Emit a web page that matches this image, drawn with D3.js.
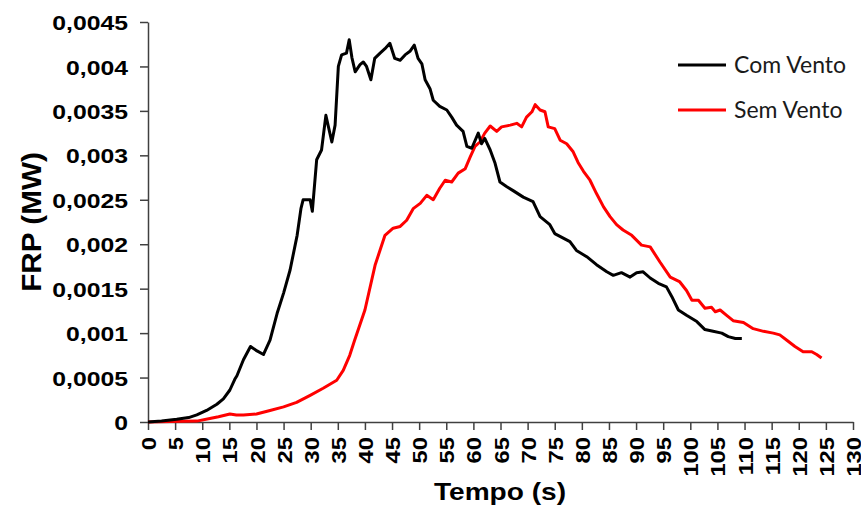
<!DOCTYPE html>
<html>
<head>
<meta charset="utf-8">
<script src="https://cdn.jsdelivr.net/npm/d3@7"></script>
<style>
  html, body { margin: 0; padding: 0; background: #fff; }
  svg { display: block; }
</style>
</head>
<body>
<div id="chart"></div>
<script>
// ---- data ----
const seriesNames = ["Com Vento", "Sem Vento"];
const seriesColors = ["#000000", "#ff0000"];

const tComVento = [0, 2.5, 5.3, 7.5, 9, 10.8, 12.7, 13.9, 15.1, 16, 16.4, 17.6, 18.9, 20.1, 21.3, 22.5, 23.8, 25, 26.2, 27.5, 28.2, 28.6, 29.9, 30.3, 31.1, 32, 32.8, 33.9, 34.5, 35.1, 35.7, 36.6, 37.1, 37.6, 38.2, 39.1, 39.7, 40.3, 41.1, 41.8, 42.8, 43.7, 44.6, 45.5, 46.5, 47.4, 48.3, 49.1, 49.8, 50.5, 51.1, 52, 52.6, 53.8, 55.1, 56, 56.9, 58.1, 58.8, 59.7, 60.9, 61.5, 62.1, 63.1, 64, 64.9, 66.1, 67.4, 69.2, 71, 72.3, 74.1, 75, 77.8, 79, 80.9, 82.7, 84.6, 85.8, 87.3, 88.9, 90.1, 91.3, 92.6, 94.1, 95.6, 96.6, 97.8, 99.3, 101.2, 102.7, 104.2, 105.8, 107, 108.3, 109.5];
const vComVento = [0, 0.00001, 0.00003, 0.00005, 0.00008, 0.00013, 0.0002, 0.00026, 0.00036, 0.00048, 0.00052, 0.0007, 0.00085, 0.0008, 0.00076, 0.00092, 0.00122, 0.00145, 0.00171, 0.0021, 0.0024, 0.0025, 0.0025, 0.00237, 0.00295, 0.00306, 0.00345, 0.00315, 0.00334, 0.004, 0.00413, 0.00415, 0.0043, 0.0041, 0.00394, 0.00402, 0.00405, 0.004, 0.00385, 0.00409, 0.00415, 0.0042, 0.00426, 0.00409, 0.00407, 0.00413, 0.00417, 0.00424, 0.00409, 0.00403, 0.00385, 0.00375, 0.00362, 0.00355, 0.00351, 0.00343, 0.00334, 0.00327, 0.0031, 0.00308, 0.00325, 0.00313, 0.00319, 0.00306, 0.00291, 0.0027, 0.00265, 0.0026, 0.00253, 0.00248, 0.00231, 0.00222, 0.00212, 0.00203, 0.00193, 0.00186, 0.00177, 0.00169, 0.00165, 0.00168, 0.00163, 0.00168, 0.00169, 0.00162, 0.00156, 0.00152, 0.00141, 0.00126, 0.0012, 0.00113, 0.00104, 0.00102, 0.001, 0.00096, 0.00094, 0.00094];

const tSemVento = [0, 4, 9, 11.4, 13, 15.1, 16.3, 17.6, 20, 22.5, 25, 27.4, 29.9, 32.3, 34.8, 36, 37.2, 38.1, 40, 41.9, 43.7, 45.2, 46.5, 47.7, 48.9, 50.2, 51.4, 52.6, 53.8, 54.8, 56, 57.2, 58.5, 59.4, 60.3, 61.2, 62.1, 63.1, 64.3, 65.2, 66.8, 68, 68.9, 69.8, 70.8, 71.4, 72.3, 73.2, 73.8, 75, 76, 77.2, 78.4, 79.3, 80.3, 81.5, 82.7, 84, 85.2, 86.4, 87.6, 89.2, 91, 92.6, 94.4, 96.3, 98, 99.3, 100.3, 101.5, 102.7, 103.9, 104.6, 105.5, 106.7, 107.9, 109.8, 111.6, 113.5, 115.3, 116.5, 117.8, 119.3, 120.8, 122.4, 123.3, 124.2];
const vSemVento = [0, 0.000005, 0.00001, 0.00004, 0.00006, 0.00009, 0.00008, 0.00008, 0.00009, 0.00013, 0.00017, 0.00022, 0.0003, 0.00038, 0.00047, 0.00058, 0.00075, 0.00092, 0.00126, 0.00177, 0.0021, 0.00218, 0.0022, 0.00227, 0.0024, 0.00246, 0.00255, 0.0025, 0.00263, 0.00272, 0.0027, 0.0028, 0.00285, 0.00298, 0.0031, 0.00315, 0.00325, 0.00333, 0.00327, 0.00332, 0.00334, 0.00336, 0.00332, 0.00343, 0.00349, 0.00357, 0.00351, 0.00349, 0.00332, 0.0033, 0.00317, 0.00313, 0.00304, 0.00292, 0.00282, 0.00272, 0.00257, 0.00242, 0.00231, 0.00222, 0.00216, 0.0021, 0.00199, 0.00197, 0.0018, 0.00163, 0.00158, 0.00148, 0.00137, 0.00137, 0.00128, 0.00129, 0.00124, 0.00126, 0.0012, 0.00114, 0.00112, 0.00105, 0.00102, 0.001, 0.00098, 0.00092, 0.00085, 0.00079, 0.00079, 0.00076, 0.00072];

const xTicks = d3.range(0, 131, 5);
const yTicks = [0, 0.0005, 0.001, 0.0015, 0.002, 0.0025, 0.003, 0.0035, 0.004, 0.0045];
const yTickLabels = ["0", "0,0005", "0,001", "0,0015", "0,002", "0,0025", "0,003", "0,0035", "0,004", "0,0045"];
const xTitle = "Tempo (s)";
const yTitle = "FRP (MW)";

// ---- layout ----
const W = 861, H = 506;
const svg = d3.select("#chart").append("svg").attr("width", W).attr("height", H);
const x = d3.scaleLinear().domain([0, 130]).range([148, 853]);
const y = d3.scaleLinear().domain([0, 0.0045]).range([422, 22]);
const FONT = "'Liberation Sans', Arial, sans-serif";
const AXC = "#404040";

function stretch(sel, k) {
  sel.each(function() {
    const w = this.getComputedTextLength();
    d3.select(this).attr("textLength", w * k).attr("lengthAdjust", "spacingAndGlyphs");
  });
}

// y axis
const yAxis = svg.append("g").attr("transform", `translate(${x(0)},0)`)
  .call(d3.axisLeft(y).tickValues(yTicks).tickFormat((d, i) => yTickLabels[i]).tickSize(8).tickSizeOuter(0).tickPadding(12));
yAxis.select(".domain").attr("stroke", AXC).attr("stroke-width", 1.5);
yAxis.selectAll(".tick line").attr("stroke", AXC).attr("stroke-width", 1.5);
const yLab = yAxis.selectAll(".tick text").attr("font-family", FONT).attr("font-weight", "bold")
  .attr("font-size", 21).attr("fill", "#000").attr("dy", "0.36em");
stretch(yLab, 1.18);

// x axis
const xAxis = svg.append("g").attr("transform", `translate(0,${y(0)})`)
  .call(d3.axisBottom(x).tickValues(xTicks).tickFormat(d3.format("d")).tickSize(8).tickSizeOuter(0));
xAxis.select(".domain").attr("stroke", AXC).attr("stroke-width", 1.5);
xAxis.selectAll(".tick line").attr("stroke", AXC).attr("stroke-width", 1.5);
const xLab = xAxis.selectAll(".tick text")
  .attr("font-family", FONT).attr("font-weight", "bold").attr("font-size", 21).attr("fill", "#000")
  .attr("text-anchor", "end").attr("x", 0).attr("y", 0).attr("dy", "0.36em")
  .attr("transform", "translate(0,15) rotate(-90)");
stretch(xLab, 1.13);

// lines
const line = d3.line().x(d => x(d[0])).y(d => y(d[1]));
const dataCom = tComVento.map((t, i) => [t, vComVento[i]]);
const dataSem = tSemVento.map((t, i) => [t, vSemVento[i]]);
svg.append("path").datum(dataSem).attr("d", line).attr("fill", "none")
  .attr("stroke", seriesColors[1]).attr("stroke-width", 3).attr("stroke-linejoin", "round");
svg.append("path").datum(dataCom).attr("d", line).attr("fill", "none")
  .attr("stroke", seriesColors[0]).attr("stroke-width", 3).attr("stroke-linejoin", "round");

// titles
const xt = svg.append("text").attr("x", 500).attr("y", 500).attr("text-anchor", "middle")
  .attr("font-family", FONT).attr("font-weight", "bold").attr("font-size", 24).text(xTitle);
stretch(xt, 1.17);
const yt = svg.append("text").attr("transform", "translate(41,222) rotate(-90)").attr("text-anchor", "middle")
  .attr("font-family", FONT).attr("font-weight", "bold").attr("font-size", 27).text(yTitle);
stretch(yt, 1.1);

// legend
const leg = svg.append("g");
seriesNames.forEach((name, i) => {
  const ly = 65 + i * 45;
  leg.append("line").attr("x1", 678).attr("x2", 726).attr("y1", ly).attr("y2", ly)
    .attr("stroke", seriesColors[i]).attr("stroke-width", 3);
  leg.append("text").attr("x", 734).attr("y", ly + 8)
    .attr("font-family", "Lato, 'Open Sans', sans-serif").attr("font-size", 23).attr("fill", "#1a1a1a").text(name);
});
</script>
</body>
</html>
